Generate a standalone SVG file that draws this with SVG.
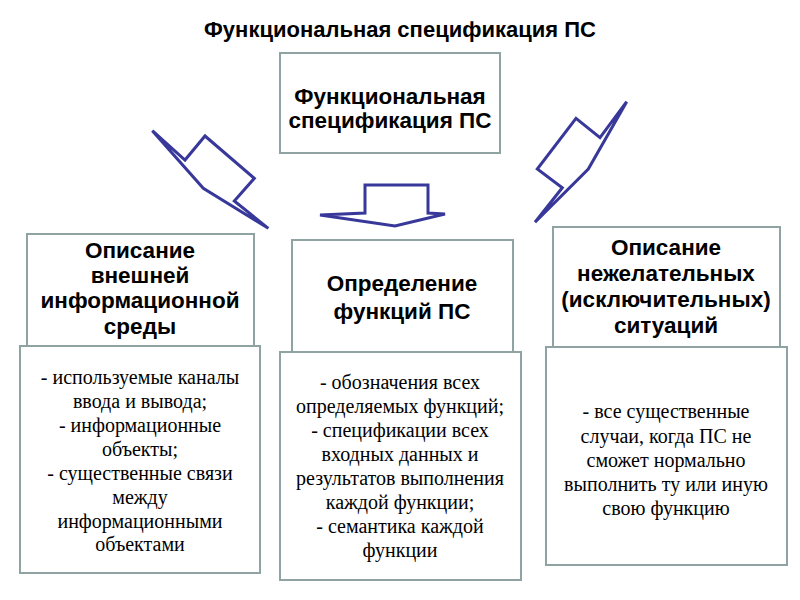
<svg xmlns="http://www.w3.org/2000/svg" width="800" height="600" viewBox="0 0 800 600">
<style>
.box{fill:#ffffff;stroke:#8fa3a3;stroke-width:2}
.h{font-family:'Liberation Sans',Arial,sans-serif;font-weight:bold;font-size:22.5px;fill:#000;text-anchor:middle}
.b{font-family:'Liberation Serif','DejaVu Serif',serif;font-size:20px;fill:#000;text-anchor:middle}
.arr{fill:none;stroke:#38389a;stroke-width:3;stroke-linejoin:miter}
</style>
<rect width="800" height="600" fill="#ffffff"/>
<text x="400" y="37" class="h" style="font-size:22px">Функциональная спецификация ПС</text>
<g id="top">
<rect class="box" x="280" y="53" width="220" height="100"/>
<text class="h" x="390" y="104">Функциональная</text>
<text class="h" x="390" y="128">спецификация ПС</text>
</g>
<g id="connectors">
<polygon class="arr" points="152.3,130.7 185,160 205,136 254.3,178.3 234.3,201 268.3,228.3 203.3,188.3"/>
<polygon class="arr" points="365,185 428,185 428,213 445,214 395,226 320,215 365,213"/>
<polygon class="arr" points="626.7,101.7 600,137.7 576,118.3 537.3,169 562.3,187.7 535,222.3 588.3,169"/>
</g>
<g id="left-head">
<rect class="box" x="27" y="234" width="227" height="112"/>
<text class="h" x="140" y="258">Описание</text>
<text class="h" x="140" y="283">внешней</text>
<text class="h" x="140" y="308">информационной</text>
<text class="h" x="140" y="334">среды</text>
</g>
<g id="left-body">
<rect class="box" x="20" y="346" width="240" height="227"/>
<text class="b" x="140" y="384">- используемые каналы</text>
<text class="b" x="140" y="408">ввода и вывода;</text>
<text class="b" x="140" y="432">- информационные</text>
<text class="b" x="140" y="456">объекты;</text>
<text class="b" x="140" y="480">- существенные связи</text>
<text class="b" x="140" y="504">между</text>
<text class="b" x="140" y="528">информационными</text>
<text class="b" x="140" y="551">объектами</text>
</g>
<g id="mid-head">
<rect class="box" x="292" y="240" width="221" height="112"/>
<text class="h" x="402" y="291">Определение</text>
<text class="h" x="402" y="319">функций ПС</text>
</g>
<g id="mid-body">
<rect class="box" x="280" y="352" width="241" height="228"/>
<text class="b" x="400" y="389">- обозначения всех</text>
<text class="b" x="400" y="413">определяемых функций;</text>
<text class="b" x="400" y="437">- спецификации всех</text>
<text class="b" x="400" y="461">входных данных и</text>
<text class="b" x="400" y="485">результатов выполнения</text>
<text class="b" x="400" y="509">каждой функции;</text>
<text class="b" x="400" y="533">- семантика каждой</text>
<text class="b" x="400" y="557">функции</text>
</g>
<g id="right-head">
<rect class="box" x="553" y="227" width="227" height="120"/>
<text class="h" x="666" y="255">Описание</text>
<text class="h" x="666" y="281">нежелательных</text>
<text class="h" x="666" y="307">(исключительных)</text>
<text class="h" x="666" y="333">ситуаций</text>
</g>
<g id="right-body">
<rect class="box" x="546" y="347" width="241" height="218"/>
<text class="b" x="666" y="418">- все существенные</text>
<text class="b" x="666" y="443">случаи, когда ПС не</text>
<text class="b" x="666" y="467">сможет нормально</text>
<text class="b" x="666" y="491">выполнить ту или иную</text>
<text class="b" x="666" y="515">свою функцию</text>
</g>
</svg>
